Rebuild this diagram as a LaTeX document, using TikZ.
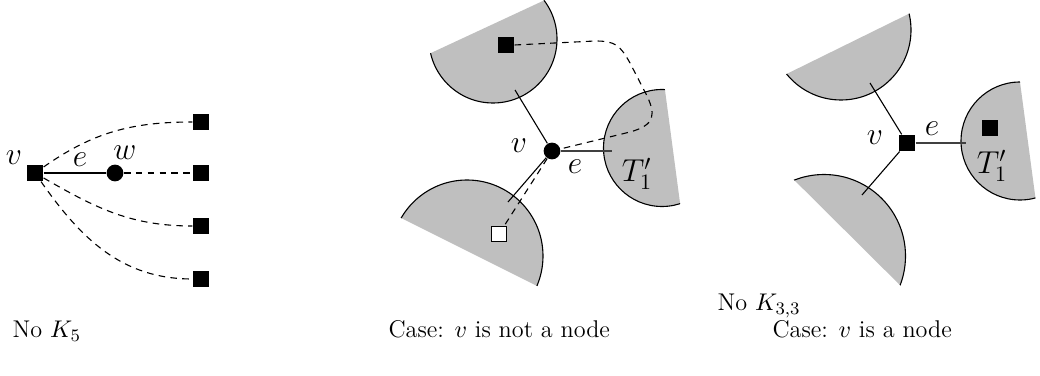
\documentclass[tikz,border=0pt]{standalone}
\begin{document}
\begin{tikzpicture}[x=0.4545pt,y=0.4545pt,line width=0.5pt,
  bsq/.style={rectangle,fill=black,inner sep=0pt,minimum size=7.3pt},
  wsq/.style={rectangle,fill=white,draw=black,inner sep=0pt,minimum size=6.8pt},
  vdot/.style={circle,fill=black,inner sep=0pt,minimum size=7.6pt},
  lab/.style={font=\Large,inner sep=0pt},
  captext/.style={anchor=base west,inner sep=0pt,font=\fontsize{11}{13}\selectfont},
  eedge/.style={draw=black!75,line width=0.7pt},
  region/.style={fill=black!25},
  dashline/.style={dashed,dash pattern=on 3pt off 2.4pt}]
\useasboundingbox (0,0) rectangle (1040,-376);
% ---------- regions (circular segments) ----------
\newcommand{\segm}[3]{%
  \begin{scope}
    \clip #3;
    \fill[region] #1 circle[radius=#2];
    \draw #1 circle[radius=#2];
  \end{scope}}
\segm{(493,-39)}{64}{(400,-67.4) -- (580,16.3) -- (664,-165) -- (484,-249) -- cycle}
\segm{(662,-148)}{58.5}{(661,-60) -- (684,-233) -- (535,-253) -- (512,-80) -- cycle}
\segm{(467,-256)}{76}{(365,-200) -- (573,-304) -- (662,-125) -- (454,-21) -- cycle}
\segm{(841,-30)}{70}{(750,-92) -- (945,4) -- (1033,-176) -- (838,-272) -- cycle}
\segm{(824,-256)}{81.5}{(766,-152) -- (928,-313) -- (1069,-171) -- (907,-10) -- cycle}
\segm{(1020,-141)}{59}{(1016,-52) -- (1053,-330) -- (904,-350) -- (867,-72) -- cycle}
% ---------- panel 1 ----------
\node[bsq] (v1) at (35,-173) {};
\node[vdot] (w1) at (115,-173) {};
\node[bsq] (q1) at (201,-122) {};
\node[bsq] (q2) at (201,-173) {};
\node[bsq] (q3) at (201,-226) {};
\node[bsq] (q4) at (201,-279) {};
\node[lab] (lv1) at (14,-158) {$v$};
\node[lab] (le1) at (80,-160) {$e$};
\node[lab] (lw1) at (125,-153) {$w$};
\draw (v1) -- (w1);
\draw[dashline] (w1) -- (q2);
\draw[dashline] (v1) to[out=35,in=180] (q1);
\draw[dashline] (v1) to[out=-30,in=180] (q3);
\draw[dashline] (v1) to[out=-55,in=180] (q4);
% ---------- panel 2 ----------
\node[vdot] (v2) at (552,-151) {};
\node[bsq] (b2) at (506,-45) {};
\node[wsq] (ws2) at (499,-234) {};
\coordinate (c2a) at (515,-90);
\coordinate (c2b) at (508,-202);
\coordinate (c2e) at (612,-151);
\node[lab] (lv2) at (519,-146) {$v$};
\node[lab] (le2) at (575,-167) {$e$};
\node[lab] (lt2) at (637,-174) {$T_1'$};
\draw (v2) -- (c2a);
\draw (v2) -- (c2b);
\draw[eedge] (v2) -- (c2e);
\draw[dashline] (v2) -- (ws2);
\draw[dashline] (b2.east) -- (595,-41) .. controls (615,-41) and (620,-45) .. (630,-63)
  -- (645,-92) .. controls (657,-115) and (655,-125) .. (630,-132) -- (v2);
% ---------- panel 3 ----------
\node[bsq] (v3) at (907,-143) {};
\node[bsq] (b3) at (990,-128) {};
\coordinate (c3a) at (870,-83);
\coordinate (c3b) at (862,-195);
\coordinate (c3e) at (966,-143);
\node[lab] (lv3) at (875,-138) {$v$};
\node[lab] (le3) at (932,-129) {$e$};
\node[lab] (lt3) at (992,-166) {$T_1'$};
\draw (v3) -- (c3a);
\draw (v3) -- (c3b);
\draw[eedge] (v3) -- (c3e);
% ---------- captions ----------
\node[captext] (cap1) at (12,-338) {No $K_5$};
\node[captext] (cap2) at (388,-338) {Case: $v$ is not a node};
\node[captext] (cap3) at (717,-311) {No $K_{3,3}$};
\node[captext] (cap4) at (772,-338) {Case: $v$ is a node};
\end{tikzpicture}
\end{document}
